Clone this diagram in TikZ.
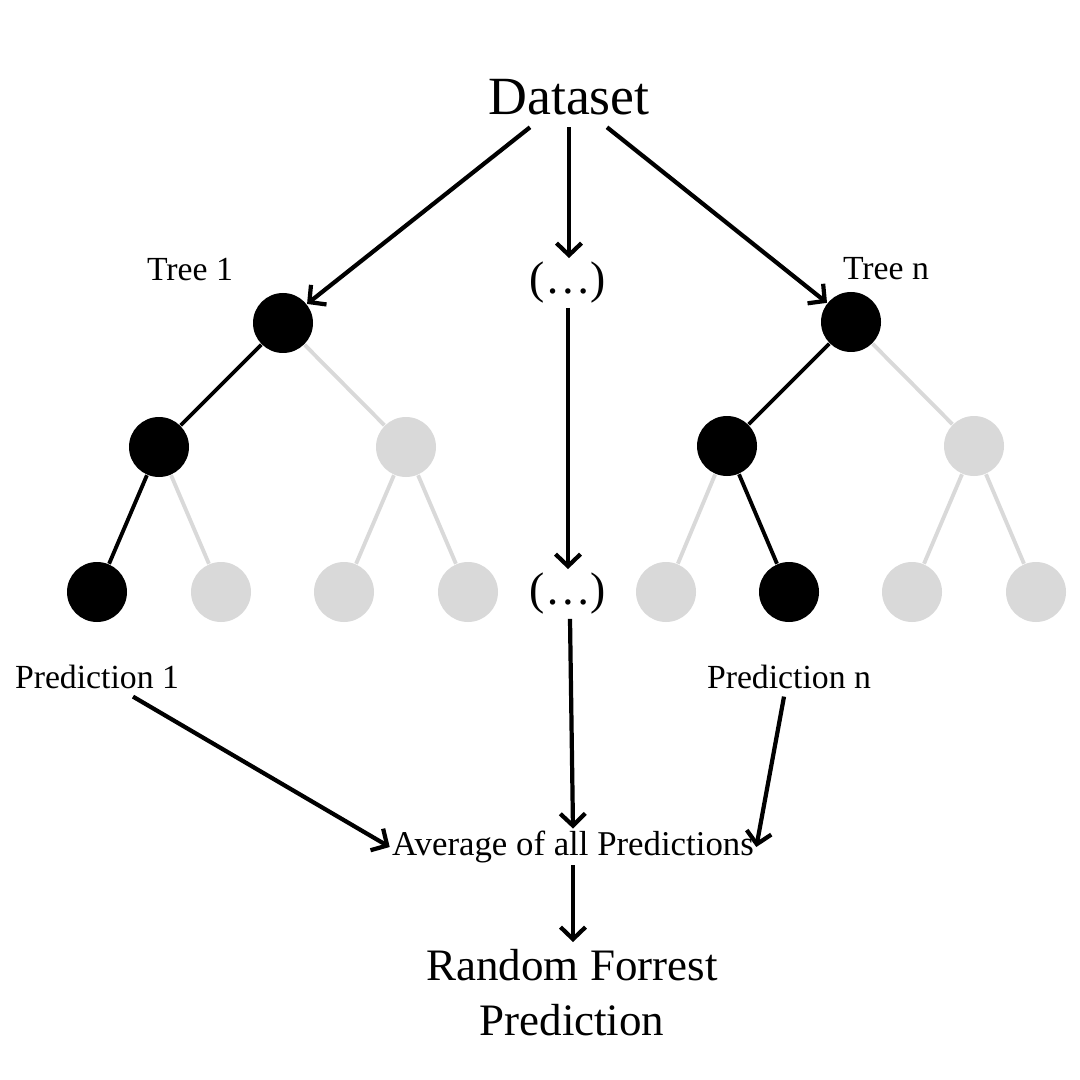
\documentclass[tikz,border=0pt]{standalone}
\usepackage{fontspec}
\setmainfont{Liberation Serif}
\usepackage{tikz}
\usetikzlibrary{arrows.meta,positioning}
\definecolor{leafGray}{RGB}{217,217,217}

\begin{document}
\begin{tikzpicture}[
          hit/.style={circle,fill=black,minimum size=6mm,inner sep=0pt},
          miss/.style={circle,fill=leafGray,minimum size=6mm,inner sep=0pt},
          lbl/.style={font=\fontsize{9.6}{11}\selectfont,inner sep=2pt},
          seta/.style={line width=1.2pt,-{Straight Barb[length=1.2mm,width=2.5mm]}},
        ]
        \useasboundingbox (0,0) rectangle (10.8,-10.8);
        % Textos
        \node[font=\fontsize{15.3}{18}\selectfont] (ds) at (5.69,-0.97) {Dataset};
        \node[font=\fontsize{13}{15}\selectfont,inner sep=1pt] (d1) at (5.68,-2.83) {(…)};
        \node[font=\fontsize{13}{15}\selectfont,inner sep=1pt] (d2) at (5.68,-5.94) {(…)};
        \node[lbl] at (1.90,-2.70) {Tree 1};
        \node[lbl] at (8.86,-2.69) {Tree n};
        \node[lbl] (p1) at (0.97,-6.77) {Prediction 1};
        \node[lbl] (pn) at (7.89,-6.77) {Prediction n};
        \node[font=\fontsize{9.9}{11}\selectfont,inner sep=0.5pt] (avg) at (5.73,-8.47)
             {Average of all Predictions};
        \node[font=\fontsize{12.8}{15.6}\selectfont,align=center,inner sep=2pt] (rf)
             at (5.72,-9.93) {Random Forrest\\Prediction};

        % Arvore 1
        \node[hit]  (a1) at (2.83,-3.23) {};
        \node[hit]  (a2) at (1.59,-4.47) {};
        \node[miss] (a3) at (4.06,-4.47) {};
        \node[hit]  (a4) at (0.97,-5.92) {};
        \node[miss] (a5) at (2.21,-5.92) {};
        \node[miss] (a6) at (3.44,-5.92) {};
        \node[miss] (a7) at (4.68,-5.92) {};
        % Arvore n
        \node[hit]  (b1) at (8.51,-3.22) {};
        \node[hit]  (b2) at (7.27,-4.46) {};
        \node[miss] (b3) at (9.74,-4.46) {};
        \node[miss] (b4) at (6.66,-5.92) {};
        \node[hit]  (b5) at (7.89,-5.92) {};
        \node[miss] (b6) at (9.12,-5.92) {};
        \node[miss] (b7) at (10.36,-5.92) {};

        % Ramos
        \foreach \a/\b in {a1/a3,a2/a5,a3/a6,a3/a7,b1/b3,b2/b4,b3/b6,b3/b7}{
          \draw[leafGray,line width=1.1pt] (\a)--(\b);
        }
        \foreach \a/\b in {a1/a2,a2/a4,b1/b2,b2/b5}{
          \draw[black,line width=1.1pt] (\a)--(\b);
        }

        % Setas
        \draw[seta] ([xshift=-3.9mm]ds.south) -- (a1);
        \draw[seta] (ds.south) -- (ds.south |- d1.north);
        \draw[seta] ([xshift=3.8mm]ds.south) -- (b1);
        \draw[seta] (d1.south) -- (d2.north);
        \draw[seta] ([xshift=0.2mm]d2.south) -- (avg.north);
        \draw[seta] ([xshift=3.6mm]p1.south) -- (avg.west);
        \draw[seta] ([xshift=-0.5mm]pn.south) -- (avg.east);
        \draw[seta] (avg.south) -- (avg.south |- rf.north);
      \end{tikzpicture}
\end{document}
